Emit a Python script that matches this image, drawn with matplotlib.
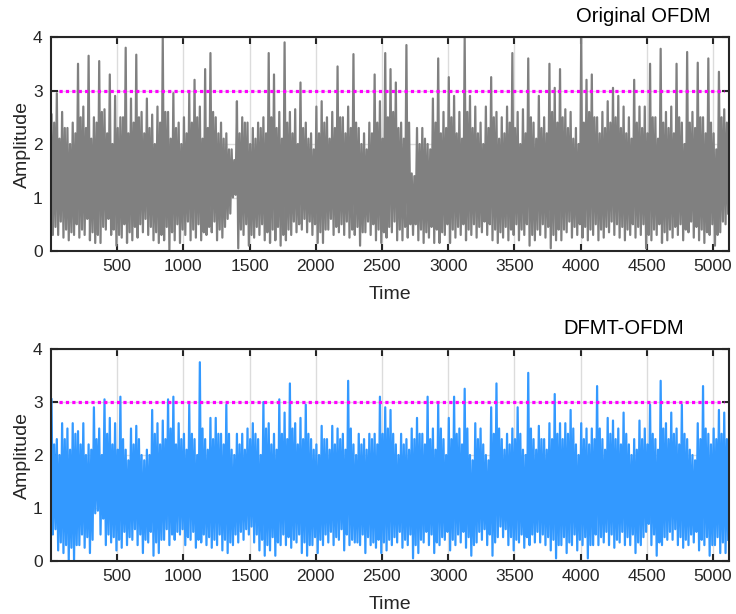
import matplotlib
matplotlib.use("Agg")
import matplotlib.pyplot as plt
import numpy as np

plt.rcParams['font.family'] = ['Liberation Sans', 'DejaVu Sans']

# amplitude, four values per 40 samples:
# the max, the min, and the upper / lower edge of the dense band
bin_len = 40
n_samples = 5120

orig_peak = [
    2.55, 2.95, 2.6, 2.3, 2.4, 3.5, 2.7, 3.65, 2.5, 3.55, 2.65, 3.3, 2.9, 2.5, 3.8, 2.85,
    3.67, 2.6, 2.85, 2.55, 2.7, 4.0, 2.6, 2.95, 2.4, 2.5, 2.95, 3.2, 2.7, 3.4, 3.7, 2.5,
    2.4, 2.2, 1.9, 2.8, 2.5, 2.4, 2.3, 2.4, 2.5, 3.7, 3.3, 2.6, 3.9, 2.6, 2.65, 3.15,
    2.4, 2.2, 2.7, 2.8, 2.5, 2.6, 3.45, 2.5, 2.7, 3.68, 2.3, 2.2, 2.4, 3.3, 2.8, 3.7,
    3.4, 3.15, 2.4, 3.85, 1.45, 2.3, 2.3, 2.0, 2.85, 3.6, 2.6, 3.25, 2.9, 2.6, 4.0, 2.9,
    2.7, 2.4, 2.7, 3.25, 2.6, 2.5, 2.7, 3.7, 2.6, 2.65, 3.6, 2.4, 2.9, 2.5, 3.5, 3.05,
    3.4, 2.65, 2.6, 2.3, 4.0, 3.2, 3.3, 2.5, 2.6, 2.8, 3.05, 2.9, 2.7, 2.5, 3.2, 2.7,
    2.7, 3.5, 2.5, 3.78, 2.6, 2.7, 3.5, 2.4, 3.72, 2.6, 3.52, 2.5, 3.6, 2.2, 3.35, 2.65,
]
orig_trough = [
    0.3, 0.3, 0.25, 0.2, 0.3, 0.25, 0.3, 0.2, 0.15, 0.15, 0.4, 0.3, 0.1, 0.25, 0.15, 0.2,
    0.25, 0.35, 0.3, 0.2, 0.15, 0.2, 0.02, 0.2, 0.15, 0.3, 0.2, 0.25, 0.2, 0.3, 0.35, 0.2,
    0.25, 0.6, 1.0, 0.05, 0.3, 0.1, 0.25, 0.3, 0.2, 0.15, 0.2, 0.1, 0.2, 0.3, 0.35, 0.4,
    0.35, 0.3, 0.15, 0.15, 0.4, 0.3, 0.35, 0.3, 0.25, 0.3, 0.1, 0.35, 0.3, 0.2, 0.15, 0.25,
    0.35, 0.2, 0.2, 0.25, 0.3, 0.2, 0.15, 0.25, 0.15, 0.15, 0.3, 0.15, 0.25, 0.3, 0.2, 0.3,
    0.25, 0.35, 0.3, 0.2, 0.15, 0.25, 0.2, 0.3, 0.2, 0.3, 0.1, 0.2, 0.3, 0.25, 0.05, 0.2,
    0.2, 0.35, 0.25, 0.3, 0.25, 0.2, 0.3, 0.2, 0.25, 0.35, 0.3, 0.25, 0.2, 0.3, 0.25, 0.3,
    0.05, 0.2, 0.3, 0.15, 0.2, 0.25, 0.3, 0.2, 0.35, 0.25, 0.2, 0.15, 0.3, 0.1, 0.35, 0.5,
]
orig_band_top = [
    2.4, 2.1, 2.3, 2.0, 2.2, 2.5, 2.3, 2.1, 2.4, 2.6, 2.2, 2.0, 2.3, 2.5, 2.2, 2.4,
    2.5, 2.2, 2.3, 2.0, 2.4, 2.6, 2.1, 2.3, 2.0, 2.2, 2.4, 2.5, 2.1, 2.3, 2.6, 2.2,
    2.1, 1.9, 1.7, 2.2, 2.4, 2.0, 2.1, 2.3, 2.2, 2.5, 2.3, 2.1, 2.4, 2.2, 2.0, 2.3,
    2.1, 1.9, 2.2, 2.4, 2.1, 2.3, 2.5, 2.2, 2.3, 2.4, 2.0, 1.9, 2.2, 2.4, 2.1, 2.5,
    2.6, 2.3, 2.1, 2.4, 1.4, 2.0, 2.1, 1.9, 2.4, 2.2, 2.3, 2.5, 2.2, 2.1, 2.6, 2.3,
    2.2, 2.0, 2.3, 2.5, 2.1, 2.2, 2.4, 2.3, 2.0, 2.2, 2.5, 2.1, 2.3, 2.2, 2.6, 2.4,
    2.5, 2.3, 2.1, 2.0, 2.4, 2.6, 2.5, 2.2, 2.3, 2.4, 2.5, 2.3, 2.2, 2.1, 2.4, 2.3,
    2.2, 2.5, 2.1, 2.4, 2.3, 2.2, 2.5, 2.0, 2.4, 2.3, 2.5, 2.2, 2.4, 1.9, 2.5, 2.4,
]
orig_band_bot = [
    0.45, 0.55, 0.4, 0.35, 0.5, 0.4, 0.6, 0.35, 0.3, 0.45, 0.6, 0.4, 0.3, 0.5, 0.35, 0.45,
    0.5, 0.6, 0.45, 0.35, 0.3, 0.45, 0.35, 0.5, 0.4, 0.55, 0.4, 0.5, 0.35, 0.45, 0.55, 0.4,
    0.45, 0.7, 1.05, 0.4, 0.5, 0.3, 0.45, 0.5, 0.35, 0.4, 0.45, 0.3, 0.4, 0.55, 0.5, 0.6,
    0.55, 0.5, 0.35, 0.4, 0.6, 0.45, 0.5, 0.55, 0.4, 0.45, 0.35, 0.55, 0.5, 0.4, 0.35, 0.45,
    0.55, 0.4, 0.45, 0.5, 0.5, 0.4, 0.35, 0.45, 0.4, 0.35, 0.5, 0.4, 0.45, 0.5, 0.4, 0.5,
    0.45, 0.55, 0.5, 0.4, 0.35, 0.45, 0.4, 0.5, 0.4, 0.5, 0.3, 0.4, 0.5, 0.45, 0.3, 0.4,
    0.4, 0.55, 0.45, 0.5, 0.45, 0.4, 0.5, 0.4, 0.45, 0.55, 0.5, 0.45, 0.4, 0.5, 0.45, 0.5,
    0.3, 0.4, 0.5, 0.35, 0.4, 0.45, 0.5, 0.4, 0.55, 0.45, 0.4, 0.35, 0.5, 0.3, 0.55, 0.7,
]
dfmt_peak = [
    3.05, 2.3, 2.6, 2.5, 2.6, 2.45, 2.6, 2.2, 2.9, 2.5, 3.05, 2.7, 2.6, 3.1, 2.1, 2.5,
    2.55, 2.0, 2.1, 2.85, 2.6, 2.65, 3.05, 3.1, 2.6, 2.4, 2.95, 2.3, 3.75, 2.3, 2.7, 2.7,
    2.4, 2.95, 2.1, 2.4, 2.4, 2.5, 2.6, 2.3, 3.0, 2.6, 2.4, 3.05, 2.8, 3.35, 2.6, 2.7,
    2.95, 2.3, 2.2, 2.55, 2.3, 2.55, 2.5, 2.4, 3.4, 2.2, 2.4, 2.3, 2.4, 2.4, 3.1, 2.9,
    2.85, 2.2, 2.4, 2.3, 2.5, 2.7, 2.4, 3.1, 2.5, 2.95, 2.3, 2.7, 3.1, 2.5, 3.25, 2.0,
    2.6, 2.5, 2.0, 2.9, 3.35, 2.3, 2.4, 2.5, 2.9, 2.1, 3.55, 2.3, 2.55, 2.3, 2.6, 3.15,
    2.6, 2.6, 2.85, 2.2, 2.6, 2.5, 2.5, 3.3, 2.3, 2.7, 2.65, 2.5, 2.8, 2.2, 2.3, 2.65,
    2.5, 2.95, 2.3, 3.4, 2.6, 2.8, 2.5, 2.95, 2.3, 2.0, 2.6, 3.3, 2.4, 2.5, 2.85, 2.8,
]
dfmt_trough = [
    0.5, 0.2, 0.15, 0.0, 0.0, 0.3, 0.25, 0.15, 0.9, 0.5, 0.3, 0.35, 0.2, 0.25, 0.3, 0.4,
    0.3, 0.15, 0.35, 0.1, 0.15, 0.4, 0.3, 0.4, 0.5, 0.3, 0.4, 0.25, 0.35, 0.3, 0.25, 0.3,
    0.2, 0.15, 0.3, 0.35, 0.4, 0.5, 0.35, 0.2, 0.1, 0.2, 0.1, 0.3, 0.3, 0.25, 0.35, 0.15,
    0.1, 0.3, 0.15, 0.3, 0.35, 0.3, 0.4, 0.2, 0.3, 0.35, 0.3, 0.15, 0.3, 0.25, 0.15, 0.2,
    0.3, 0.35, 0.25, 0.3, 0.05, 0.15, 0.35, 0.3, 0.15, 0.3, 0.4, 0.2, 0.3, 0.35, 0.25, 0.1,
    0.35, 0.4, 0.3, 0.1, 0.45, 0.45, 0.3, 0.2, 0.35, 0.25, 0.3, 0.35, 0.35, 0.3, 0.2, 0.05,
    0.3, 0.15, 0.3, 0.2, 0.3, 0.05, 0.3, 0.3, 0.35, 0.3, 0.25, 0.35, 0.3, 0.3, 0.15, 0.3,
    0.55, 0.3, 0.1, 0.3, 0.4, 0.4, 0.3, 0.25, 0.3, 0.35, 0.2, 0.3, 0.1, 0.3, 0.15, 0.15,
]
dfmt_band_top = [
    2.2, 2.0, 2.3, 2.1, 2.4, 2.2, 2.0, 2.1, 2.3, 2.0, 2.4, 2.2, 2.1, 2.3, 1.9, 2.2,
    2.3, 1.9, 2.0, 2.4, 2.2, 2.3, 2.5, 2.2, 2.3, 2.1, 2.4, 2.0, 2.5, 2.1, 2.3, 2.4,
    2.2, 2.4, 2.0, 2.2, 2.1, 2.3, 2.4, 2.0, 2.5, 2.2, 2.1, 2.4, 2.3, 2.5, 2.2, 2.3,
    2.4, 2.1, 2.0, 2.3, 2.1, 2.2, 2.3, 2.1, 2.5, 2.0, 2.2, 2.1, 2.3, 2.2, 2.4, 2.5,
    2.4, 2.0, 2.2, 2.1, 2.3, 2.4, 2.2, 2.3, 2.1, 2.5, 2.0, 2.3, 2.4, 2.2, 2.5, 1.9,
    2.3, 2.2, 1.9, 2.4, 2.5, 2.1, 2.2, 2.3, 2.4, 2.0, 2.5, 2.1, 2.3, 2.1, 2.3, 2.4,
    2.3, 2.4, 2.5, 2.0, 2.3, 2.2, 2.3, 2.5, 2.1, 2.4, 2.3, 2.2, 2.4, 2.0, 2.1, 2.3,
    2.2, 2.4, 2.1, 2.5, 2.3, 2.4, 2.2, 2.4, 2.1, 1.9, 2.3, 2.5, 2.2, 2.3, 2.4, 2.3,
]
dfmt_band_bot = [
    0.6, 0.35, 0.3, 0.25, 0.3, 0.5, 0.45, 0.4, 0.95, 0.8, 0.5, 0.45, 0.4, 0.55, 0.45, 0.6,
    0.5, 0.4, 0.55, 0.35, 0.4, 0.6, 0.5, 0.55, 0.6, 0.45, 0.55, 0.4, 0.5, 0.45, 0.4, 0.5,
    0.4, 0.35, 0.5, 0.55, 0.6, 0.65, 0.5, 0.4, 0.3, 0.45, 0.35, 0.5, 0.45, 0.4, 0.5, 0.35,
    0.3, 0.45, 0.4, 0.5, 0.55, 0.45, 0.6, 0.5, 0.4, 0.35, 0.5, 0.45, 0.35, 0.4, 0.35, 0.4,
    0.45, 0.55, 0.4, 0.5, 0.3, 0.4, 0.55, 0.5, 0.35, 0.45, 0.55, 0.4, 0.5, 0.55, 0.45, 0.3,
    0.55, 0.6, 0.5, 0.35, 0.65, 0.6, 0.45, 0.4, 0.5, 0.45, 0.5, 0.55, 0.5, 0.45, 0.4, 0.3,
    0.45, 0.35, 0.5, 0.4, 0.45, 0.3, 0.5, 0.45, 0.55, 0.5, 0.4, 0.55, 0.45, 0.5, 0.35, 0.45,
    0.7, 0.5, 0.35, 0.45, 0.55, 0.6, 0.45, 0.4, 0.5, 0.55, 0.4, 0.45, 0.3, 0.45, 0.35, 0.4,
]

threshold = 3
thr_start, thr_end = 64, 5080
xticks = [500, 1000, 1500, 2000, 2500, 3000, 3500, 4000, 4500, 5000]
yticks = [0, 1, 2, 3, 4]

panels = [
    ("Original OFDM", orig_peak, orig_trough, orig_band_top, orig_band_bot, "#808080"),
    ("DFMT-OFDM", dfmt_peak, dfmt_trough, dfmt_band_top, dfmt_band_bot, "#3399ff"),
]


def trace(peak, trough, top, bot):
    # within each 40-sample bin: max, min, then the band edges
    t, a = [], []
    for i in range(len(peak)):
        t0 = i * bin_len
        t += [t0 + 5, t0 + 15, t0 + 25, t0 + 35]
        a += [peak[i], trough[i], top[i], bot[i]]
    return np.array(t), np.array(a)


fig = plt.figure(figsize=(7.36, 6.14), dpi=100)
ax_rects = [[0.0693, 0.5912, 0.921, 0.3485], [0.0693, 0.0863, 0.921, 0.3453]]
title_pos = [(643 / 736, 1 - 17 / 614), (624 / 736, 1 - 329 / 614)]

for (name, pk, tr, top, bot, col), rect, tp in zip(panels, ax_rects, title_pos):
    ax = fig.add_axes(rect)
    t, a = trace(pk, tr, top, bot)
    ax.plot(t, a, color=col, lw=1.6, zorder=2)
    ax.plot([thr_start, thr_end], [threshold, threshold], color="#ff00ff",
            lw=2.3, dashes=(1, 1), dash_capstyle="butt", zorder=3)
    ax.set_xlim(1, n_samples)
    ax.set_ylim(0, 4)
    ax.set_xticks(xticks)
    ax.set_yticks(yticks)
    ax.grid(True, color="#dcdcdc", lw=1.0)
    ax.set_axisbelow(True)
    for s in ax.spines.values():
        s.set_color("#262626")
        s.set_linewidth(1.5)
    ax.tick_params(direction="in", top=True, right=True, length=5, width=1.5,
                   color="#262626", labelsize=12.5, labelcolor="#262626", pad=6)
    ax.set_xlabel("Time", fontsize=14, color="#262626")
    ax.set_ylabel("Amplitude", fontsize=14, color="#262626")
    ax.xaxis.set_label_coords(0.5, -0.165)
    ax.yaxis.set_label_coords(-0.029, 0.5)
    fig.text(tp[0], tp[1], name, fontsize=14.5, ha="center", va="center", color="black")

fig.savefig("out.png", dpi=100)
